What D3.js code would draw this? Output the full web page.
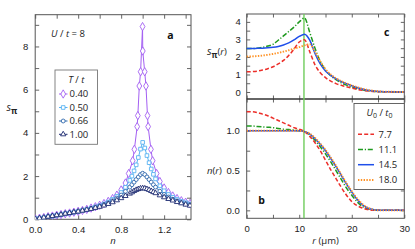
<!DOCTYPE html>
<html><head><meta charset="utf-8">
<script src="https://cdn.jsdelivr.net/npm/d3@7"></script>
<style>
body{margin:0;background:#fff}
svg{display:block;font-family:"Open Sans","Noto Sans",sans-serif}
</style>
</head><body>
<svg id="chart" width="415" height="249"></svg>
<script>
// ---------- Panel a data ----------
const nGrid = [0,0.04,0.08,0.12,0.16,0.2,0.24,0.28,0.32,0.36,0.4,0.44,0.48,0.52,0.56,0.6,0.64,0.68,0.72,0.76,0.8,0.84,0.88,0.9,0.92,0.94,0.96,0.98,1.0,1.02,1.04,1.06,1.08,1.1,1.12,1.16,1.2,1.24,1.28,1.32,1.36,1.4,1.44];
const s100 = [0.02,0.05,0.08,0.12,0.15,0.19,0.22,0.26,0.29,0.33,0.36,0.40,0.44,0.48,0.53,0.58,0.64,0.71,0.79,0.88,0.98,1.08,1.19,1.25,1.31,1.36,1.40,1.43,1.44,1.43,1.40,1.36,1.31,1.26,1.21,1.11,1.02,0.94,0.87,0.80,0.74,0.68,0.63];
const s066 = [0.02,0.05,0.08,0.12,0.15,0.19,0.22,0.26,0.29,0.33,0.37,0.41,0.45,0.50,0.55,0.61,0.68,0.76,0.86,0.98,1.12,1.29,1.49,1.60,1.72,1.84,1.96,2.07,2.13,2.07,1.96,1.84,1.72,1.60,1.49,1.30,1.15,1.03,0.93,0.85,0.78,0.72,0.67];
const s050 = [0.02,0.05,0.08,0.12,0.15,0.19,0.22,0.26,0.29,0.33,0.37,0.41,0.46,0.51,0.57,0.63,0.71,0.80,0.92,1.06,1.24,1.48,1.80,2.00,2.24,2.52,2.86,3.25,3.56,3.30,2.95,2.62,2.33,2.08,1.87,1.55,1.32,1.15,1.02,0.92,0.83,0.77,0.71];
const nViolet = [0,0.04,0.08,0.12,0.16,0.2,0.24,0.28,0.32,0.36,0.4,0.44,0.48,0.52,0.56,0.6,0.64,0.68,0.72,0.76,0.8,0.84,0.87,0.907,0.923,0.949,0.955,0.969,0.981,0.999,1.001,1.019,1.031,1.045,1.051,1.077,1.093,1.13,1.16,1.2,1.24,1.28,1.32,1.36,1.4,1.44];
const s040 = [0.02,0.05,0.08,0.12,0.15,0.19,0.22,0.26,0.29,0.33,0.37,0.41,0.46,0.52,0.58,0.65,0.73,0.83,0.96,1.12,1.36,1.68,2.12,2.71,3.24,4.29,4.80,6.17,6.83,8.92,7.79,6.83,6.17,4.80,4.29,3.24,2.71,2.12,1.75,1.45,1.24,1.08,0.96,0.86,0.79,0.73];
const tempLabels = ["0.40","0.50","0.66","1.00"];
const aXTicks = [0,0.2,0.4,0.6,0.8,1.0,1.2,1.4];
const aYTicks = [0,1,2,3,4,5,6,7,8,9];

// ---------- Panels c / b data ----------
const rGrid = [0,1,2,3,4,5,6,7,8,9,10,11,12,13,14,15,16,17,18,19,20,21,22,23,24,25,26,27,28,29,30];
const sRed    = [1.15,1.16,1.19,1.25,1.33,1.44,1.6,1.8,2.08,2.45,2.85,2.98,2.3,1.55,1.1,0.82,0.62,0.48,0.38,0.3,0.22,0.15,0.1,0.06,0.03,0.02,0.01,0.01,0,0,0];
const sGreen  = [2.48,2.48,2.5,2.55,2.62,2.72,2.95,3.2,3.45,3.7,4.0,4.22,3.4,2.5,1.75,1.25,0.92,0.7,0.52,0.39,0.28,0.19,0.12,0.07,0.04,0.02,0.01,0.01,0,0,0];
const sBlue   = [2.48,2.48,2.49,2.5,2.52,2.55,2.6,2.68,2.8,2.97,3.17,3.3,2.96,2.2,1.6,1.2,0.95,0.75,0.6,0.47,0.36,0.26,0.17,0.1,0.06,0.03,0.02,0.01,0.01,0,0];
const sOrange = [2.02,2.03,2.05,2.08,2.12,2.17,2.23,2.3,2.38,2.47,2.56,2.66,2.72,2.3,1.75,1.3,1.0,0.78,0.62,0.49,0.38,0.28,0.19,0.12,0.07,0.04,0.02,0.01,0.01,0,0];
const nRed    = [1.24,1.24,1.23,1.21,1.19,1.16,1.13,1.1,1.07,1.04,1.02,0.99,0.93,0.85,0.75,0.63,0.51,0.4,0.29,0.19,0.11,0.06,0.03,0.01,0,0,0,0,0,0,0];
const nGreen  = [1.06,1.06,1.055,1.05,1.045,1.04,1.03,1.02,1.015,1.01,1.0,0.99,0.95,0.88,0.8,0.71,0.61,0.5,0.39,0.28,0.19,0.11,0.05,0.02,0.01,0,0,0,0,0,0];
const nBlue   = [1,1,1,1,1,1,1,1,1,1,1,0.99,0.96,0.9,0.83,0.75,0.65,0.55,0.44,0.33,0.23,0.14,0.07,0.03,0.01,0,0,0,0,0,0];
const nOrange = [1,1,1,1,1,1,1,1,1,1,1,0.99,0.965,0.91,0.84,0.76,0.665,0.56,0.45,0.34,0.24,0.15,0.08,0.035,0.01,0,0,0,0,0,0];
const uLabels = ["7.7","11.1","14.5","18.0"];
const rMarker = 10.9;
const rTicks = [0,5,10,15,20,25,30];
const cYTicks = [0,0.5,1,1.5,2,2.5,3,3.5,4];
const bYTicks = [0,0.25,0.5,0.75,1.0,1.25];

// ---------- drawing ----------
const svg = d3.select("#chart");
const FS = 9.5;
const frameCol = "#555";

function styleAxis(g){
  g.select(".domain").remove();
  g.selectAll(".tick line").attr("stroke", frameCol).attr("stroke-width", 0.9);
  g.selectAll(".tick text").attr("fill", "#222").attr("font-size", FS).attr("font-family", null);
}

// ===== Panel a =====
const xA = d3.scaleLinear().domain([0, 1.45]).range([35.2, 191]);
const yA = d3.scaleLinear().domain([0, 9.47]).range([219.3, 14.7]);

svg.append("g").attr("transform", `translate(0,${yA(0)})`)
  .call(d3.axisBottom(xA).tickValues(aXTicks).tickSize(-4).tickPadding(7)
    .tickFormat(d => (Math.abs(d/0.4 - Math.round(d/0.4)) < 1e-6 && d < 1.3) ? d.toFixed(1) : ""))
  .call(styleAxis);
svg.append("g").attr("transform", `translate(0,${yA.range()[1]})`)
  .call(d3.axisTop(xA).tickValues(aXTicks).tickSize(-4).tickFormat(""))
  .call(styleAxis);
svg.append("g").attr("transform", `translate(${xA(0)},0)`)
  .call(d3.axisLeft(yA).tickValues(aYTicks).tickSize(-4).tickPadding(7)
    .tickFormat(d => d % 2 === 0 ? d : ""))
  .call(styleAxis);
svg.append("g").attr("transform", `translate(${xA.range()[1]},0)`)
  .call(d3.axisRight(yA).tickValues(aYTicks).tickSize(-4).tickFormat(""))
  .call(styleAxis);

svg.append("rect").attr("x", xA.range()[0]).attr("y", yA.range()[1])
  .attr("width", xA.range()[1]-xA.range()[0]).attr("height", yA.range()[0]-yA.range()[1])
  .attr("fill", "none").attr("stroke", frameCol).attr("stroke-width", 1);

const aSeries = [
  {label: tempLabels[0], n: nViolet, s: s040, color: "#a35ff2", sym: d3.symbolDiamond, size: 20},
  {label: tempLabels[1], n: nGrid, s: s050, color: "#58b2f2", sym: d3.symbolSquare, size: 13},
  {label: tempLabels[2], n: nGrid, s: s066, color: "#2f68ad", sym: d3.symbolCircle, size: 12},
  {label: tempLabels[3], n: nGrid, s: s100, color: "#1e2b72", sym: d3.symbolTriangle, size: 12}
];
const lineA = d3.line().x(d => xA(d[0])).y(d => yA(d[1]));
const clipA = svg.append("clipPath").attr("id", "clipA").append("rect")
  .attr("x", xA.range()[0]).attr("y", yA.range()[1])
  .attr("width", xA.range()[1]-xA.range()[0]).attr("height", yA.range()[0]-yA.range()[1]);
const gA = svg.append("g").attr("clip-path", "url(#clipA)");
aSeries.forEach(sr => {
  const pts = sr.n.map((v, i) => [v, sr.s[i]]);
  gA.append("path").datum(pts).attr("d", lineA).attr("fill", "none")
    .attr("stroke", sr.color).attr("stroke-width", 1);
  gA.selectAll(null).data(pts).enter().append("path")
    .attr("d", d3.symbol().type(sr.sym).size(sr.size))
    .attr("transform", d => `translate(${xA(d[0])},${yA(d[1])})`)
    .attr("fill", "#fff").attr("stroke", sr.color).attr("stroke-width", 0.9);
});

// axis titles panel a
svg.append("text").attr("x", 113).attr("y", 244).attr("text-anchor", "middle")
  .attr("font-size", FS).attr("font-style", "italic").attr("fill", "#222").text("n");
const sl = svg.append("text").attr("x", 6.5).attr("y", 111).attr("font-size", 10.5).attr("fill", "#222");
sl.append("tspan").attr("font-style", "italic").text("s");
sl.append("tspan").attr("dy", 2.5).attr("font-size", 8.5).attr("font-weight", "bold").text("π");

// U/t = 8
const ut = svg.append("text").attr("x", 51).attr("y", 36.5).attr("font-size", FS).attr("fill", "#222");
ut.append("tspan").attr("font-style", "italic").text("U");
ut.append("tspan").text(" / ");
ut.append("tspan").attr("font-style", "italic").text("t");
ut.append("tspan").text(" = 8");
svg.append("text").attr("x", 170.5).attr("y", 38.5).attr("text-anchor", "middle")
  .attr("font-size", 10.5).attr("font-weight", "bold").attr("fill", "#111").text("a");

// legend a
svg.append("rect").attr("x", 55).attr("y", 70).attr("width", 42.5).attr("height", 74.3)
  .attr("fill", "#fff").attr("stroke", "#777").attr("stroke-width", 0.9);
const lt = svg.append("text").attr("x", 76.3).attr("y", 82.5).attr("text-anchor", "middle")
  .attr("font-size", FS).attr("fill", "#222");
lt.append("tspan").attr("font-style", "italic").text("T");
lt.append("tspan").text(" / ");
lt.append("tspan").attr("font-style", "italic").text("t");
const legAy = [94, 107.5, 121, 134.3];
aSeries.forEach((sr, i) => {
  const y = legAy[i];
  svg.append("line").attr("x1", 59).attr("x2", 67.5).attr("y1", y).attr("y2", y)
    .attr("stroke", sr.color).attr("stroke-width", 1);
  svg.append("path").attr("d", d3.symbol().type(sr.sym).size(sr.size)())
    .attr("transform", `translate(63.2,${y})`).attr("fill", "#fff")
    .attr("stroke", sr.color).attr("stroke-width", 0.9);
  svg.append("text").attr("x", 69.5).attr("y", y + 3.4).attr("font-size", FS)
    .attr("fill", "#222").text(sr.label);
});

// ===== Panels c and b =====
const xR = d3.scaleLinear().domain([0, 30]).range([246.7, 404.3]);
const yC = d3.scaleLinear().domain([-0.4, 4.45]).range([99, 14]);
const yB = d3.scaleLinear().domain([-0.1, 1.4]).range([218.3, 99]);

// panel c axes
svg.append("g").attr("transform", `translate(${xR(0)},0)`)
  .call(d3.axisLeft(yC).tickValues(cYTicks).tickSize(-3.5).tickPadding(6)
    .tickFormat(d => Number.isInteger(d) ? d : ""))
  .call(styleAxis);
svg.append("g").attr("transform", `translate(${xR(30)},0)`)
  .call(d3.axisRight(yC).tickValues(cYTicks).tickSize(-3.5).tickFormat(""))
  .call(styleAxis);
svg.append("g").attr("transform", `translate(0,${yC.range()[1]})`)
  .call(d3.axisTop(xR).tickValues(rTicks).tickSize(-3.5).tickFormat(""))
  .call(styleAxis);
svg.append("g").attr("transform", `translate(0,${yC.range()[0]})`)
  .call(d3.axisBottom(xR).tickValues(rTicks).tickSize(3.5).tickFormat(""))
  .call(styleAxis);
svg.append("g").attr("transform", `translate(0,${yC.range()[0]})`)
  .call(d3.axisBottom(xR).tickValues(rTicks).tickSize(-3.5).tickFormat(""))
  .call(styleAxis);
// panel b axes
svg.append("g").attr("transform", `translate(${xR(0)},0)`)
  .call(d3.axisLeft(yB).tickValues(bYTicks).tickSize(-3.5).tickPadding(7)
    .tickFormat(d => (d * 2) % 1 === 0 ? d.toFixed(1) : ""))
  .call(styleAxis);
svg.append("g").attr("transform", `translate(${xR(30)},0)`)
  .call(d3.axisRight(yB).tickValues(bYTicks).tickSize(-3.5).tickFormat(""))
  .call(styleAxis);
svg.append("g").attr("transform", `translate(0,${yB.range()[0]})`)
  .call(d3.axisBottom(xR).tickValues(rTicks).tickSize(-3.5).tickPadding(7)
    .tickFormat(d => d % 10 === 0 ? d : ""))
  .call(styleAxis);

// frames
svg.append("rect").attr("x", xR(0)).attr("y", yC.range()[1]).attr("width", xR(30)-xR(0))
  .attr("height", yB.range()[0]-yC.range()[1]).attr("fill", "none")
  .attr("stroke", frameCol).attr("stroke-width", 1);
svg.append("line").attr("x1", xR(0)).attr("x2", xR(30)).attr("y1", yC.range()[0]).attr("y2", yC.range()[0])
  .attr("stroke", "#333").attr("stroke-width", 1.6);

// green marker line
svg.append("line").attr("x1", xR(rMarker)).attr("x2", xR(rMarker))
  .attr("y1", yC.range()[1]).attr("y2", yB.range()[0])
  .attr("stroke", "#6fcc5c").attr("stroke-width", 1.4);

const rSeries = [
  {label: uLabels[1], s: sGreen, n: nGreen, color: "#1f9a1f", dash: "5,1.8,1.2,1.8", w: 1.5},
  {label: uLabels[0], s: sRed, n: nRed, color: "#ec2f2a", dash: "4,2.2", w: 1.5},
  {label: uLabels[2], s: sBlue, n: nBlue, color: "#1f4fea", dash: null, w: 1.5},
  {label: uLabels[3], s: sOrange, n: nOrange, color: "#ff9224", dash: "1.4,1.4", w: 1.9}
];
const lineC = d3.line().x((d, i) => xR(rGrid[i])).y(d => yC(d)).curve(d3.curveMonotoneX);
const lineB = d3.line().x((d, i) => xR(rGrid[i])).y(d => yB(d)).curve(d3.curveMonotoneX);
rSeries.forEach(sr => {
  svg.append("path").attr("d", lineC(sr.s)).attr("fill", "none").attr("stroke", sr.color)
    .attr("stroke-width", sr.w).attr("stroke-dasharray", sr.dash);
  svg.append("path").attr("d", lineB(sr.n)).attr("fill", "none").attr("stroke", sr.color)
    .attr("stroke-width", sr.w).attr("stroke-dasharray", sr.dash);
});

// labels c/b
const sc = svg.append("text").attr("x", 207).attr("y", 55).attr("font-size", FS).attr("fill", "#222");
sc.append("tspan").attr("font-style", "italic").attr("font-size", 10.5).text("s");
sc.append("tspan").attr("dy", 2.5).attr("font-size", 8).attr("font-weight", "bold").text("π");
sc.append("tspan").attr("dy", -2.5).text("(");
sc.append("tspan").attr("font-style", "italic").text("r");
sc.append("tspan").text(")");
const nb = svg.append("text").attr("x", 207).attr("y", 174).attr("font-size", FS).attr("fill", "#222");
nb.append("tspan").attr("font-style", "italic").text("n");
nb.append("tspan").text("(");
nb.append("tspan").attr("font-style", "italic").text("r");
nb.append("tspan").text(")");
const rl = svg.append("text").attr("x", 325.5).attr("y", 243.5).attr("text-anchor", "middle")
  .attr("font-size", FS).attr("fill", "#222");
rl.append("tspan").attr("font-style", "italic").text("r");
rl.append("tspan").text(" (μm)");
svg.append("text").attr("x", 386.7).attr("y", 35.5).attr("text-anchor", "middle")
  .attr("font-size", 10.5).attr("font-weight", "bold").attr("fill", "#111").text("c");
svg.append("text").attr("x", 261.7).attr("y", 203.5).attr("text-anchor", "middle")
  .attr("font-size", 10.5).attr("font-weight", "bold").attr("fill", "#111").text("b");

// legend b
svg.append("rect").attr("x", 354).attr("y", 103.5).attr("width", 50.3).attr("height", 86)
  .attr("fill", "#fff").attr("stroke", frameCol).attr("stroke-width", 0.9);
const ul = svg.append("text").attr("x", 379.5).attr("y", 115.5).attr("text-anchor", "middle")
  .attr("font-size", FS).attr("fill", "#222");
ul.append("tspan").attr("font-style", "italic").text("U");
ul.append("tspan").attr("dy", 2).attr("font-size", 7).text("0");
ul.append("tspan").attr("dy", -2).text(" / ");
ul.append("tspan").attr("font-style", "italic").text("t");
ul.append("tspan").attr("dy", 2).attr("font-size", 7).text("0");
const legBy = [134.3, 149.5, 164.7, 180];
const legOrder = [1, 0, 2, 3];
legOrder.forEach((k, i) => {
  const sr = rSeries[k];
  const y = legBy[i];
  svg.append("line").attr("x1", 358).attr("x2", 374).attr("y1", y).attr("y2", y)
    .attr("stroke", sr.color).attr("stroke-width", sr.w).attr("stroke-dasharray", sr.dash);
  svg.append("text").attr("x", 378.5).attr("y", y + 3.4).attr("font-size", FS)
    .attr("fill", "#222").text(sr.label);
});
</script>
</body></html>
